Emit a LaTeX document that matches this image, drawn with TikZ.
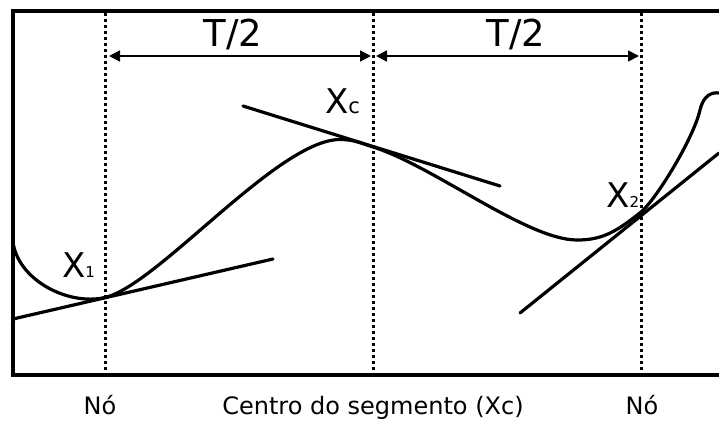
\documentclass[tikz,border=0pt]{standalone}
\usepackage{fontspec}
\setmainfont{DejaVu Sans}
\usetikzlibrary{arrows.meta}
\newcommand\mysubfont{\fontsize{15}{16}\selectfont}
\begin{document}
\begin{tikzpicture}[x=1pt,y=-1pt,
  frame/.style={line width=3.5pt},
  guide/.style={line width=3pt, dash pattern=on 3pt off 3pt},
  curve/.style={line width=3.2pt, line join=round, line cap=round},
  tang/.style={line width=3.2pt, line cap=round},
  dim/.style={line width=1.7pt, {Triangle[length=11pt,width=11pt]}-{Triangle[length=11pt,width=11pt]}},
  txt/.style={font=\fontsize{24}{28}\selectfont, anchor=base, inner sep=0pt},
  bigtxt/.style={font=\fontsize{37}{40}\selectfont, anchor=base, inner sep=0pt},
  xlab/.style={font=\fontsize{34}{36}\selectfont, anchor=base west, inner sep=0pt}
]
\useasboundingbox (0,0) rectangle (719,423);

% frame
\coordinate (tr) at (719,11);
\coordinate (bl) at (13,375);
\coordinate (br) at (719,375);
\draw[frame] (tr) -| (bl) -- (br);

% dotted node lines
\coordinate (g1t) at (105,13);  \coordinate (g1b) at (105,375);
\coordinate (g2t) at (373,13);  \coordinate (g2b) at (373,375);
\coordinate (g3t) at (641,13);  \coordinate (g3b) at (641,375);
\draw[guide] (g1t) -- (g1b);
\draw[guide] (g2t) -- (g2b);
\draw[guide] (g3t) -- (g3b);

% T/2 dimension arrows
\coordinate (a1) at (109,56); \coordinate (a2) at (371,56);
\coordinate (a3) at (376,56); \coordinate (a4) at (639,56);
\draw[dim] (a1) -- (a2);
\draw[dim] (a3) -- (a4);
\node[bigtxt] (tl) at (233,46) {T/2};
\node[bigtxt] (tr2) at (516,46) {T/2};

% points on the curve
\coordinate (s0) at (13,242);
\coordinate (p1) at (105,297.5);
\coordinate (m1) at (340,139.5);
\coordinate (pc) at (373,147);
\coordinate (m2) at (577,240);
\coordinate (p2) at (641,212);
\coordinate (q1) at (700,110);
\coordinate (e0) at (719,93);

% main curve
\draw[curve] (s0) .. controls (18,280) and (68,306) .. (p1)
  .. controls (158,285) and (278,139.5) .. (m1)
  .. controls (354,139.5) and (361,143.3) .. (pc)
  .. controls (433,165.7) and (527,240) .. (m2)
  .. controls (602,240) and (616,232.1) .. (p2)
  .. controls (655,200.7) and (693,140) .. (q1)
  .. controls (703.5,95) and (712,92) .. (e0);

% tangents
\coordinate (t1a) at (13,319);  \coordinate (t1b) at (273,259);
\coordinate (tca) at (243,106); \coordinate (tcb) at (500,186);
\coordinate (t2a) at (520,313); \coordinate (t2b) at (719,153);
\draw[tang] (t1a) -- (t1b);
\draw[tang] (tca) -- (tcb);
\draw[tang] (t2a) -- (t2b);

% point labels
\node[xlab] (x1) at (62,277) {X{\mysubfont 1}};
\node[xlab] (xc) at (325,113) {X{\fontsize{21}{22}\selectfont c}};
\node[xlab] (x2) at (606,207) {X{\mysubfont 2}};

% bottom labels
\node[txt] (no1) at (100,414) {Nó};
\node[txt] (cen) at (373,414) {Centro do segmento (Xc)};
\node[txt] (no2) at (642,414) {Nó};
\end{tikzpicture}
\end{document}
